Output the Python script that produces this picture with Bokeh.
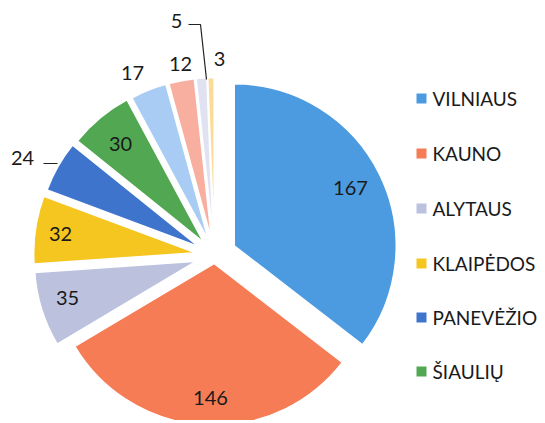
import math
from bokeh.plotting import figure
from bokeh.models import Range1d, ColumnDataSource
from bokeh.core.properties import value
from bokeh.embed import file_html
from bokeh.resources import INLINE

# ---- data ----
categories = ["VILNIAUS", "KAUNO", "ALYTAUS", "KLAIPĖDOS", "PANEVĖŽIO", "ŠIAULIŲ",
              "Kita 1", "Kita 2", "Kita 3", "Kita 4"]
values = [167, 146, 35, 32, 24, 30, 17, 12, 5, 3]
legend_labels = ["VILNIAUS", "KAUNO", "ALYTAUS", "KLAIPĖDOS", "PANEVĖŽIO", "ŠIAULIŲ"]

# ---- style ----
colors = ["#4C9BE0", "#F57C55", "#BCC2DE", "#F5C520", "#3F74CC", "#52A852",
          "#A8CCF4", "#F8AFA0", "#E0E2F2", "#F8DC98"]
explode = [22, 8, 19, 19, 18, 17, 16, 16, 16, 16]
H = 423
CX, CY = 214, H - 255
R = 162
FONT = "Lato"

# label positions (reference pixel coords)
label_pos = [(350, 187), (210, 397), (67, 297), (60, 233), (22, 157), (120, 143),
             (132, 72), (180, 63), (176, 20), (219, 58)]

total = sum(values)
xs, ys, starts, ends = [], [], [], []
acc = 0.0
for v, d in zip(values, explode):
    a1 = acc / total * 360.0
    a2 = (acc + v) / total * 360.0
    acc += v
    b = math.radians((a1 + a2) / 2)
    xs.append(CX + d * math.sin(b))
    ys.append(CY + d * math.cos(b))
    starts.append(math.radians(90 - a2))
    ends.append(math.radians(90 - a1))

src = ColumnDataSource(dict(x=xs, y=ys, s=starts, e=ends, c=colors))

W, HH = 540, 420
p = figure(width=W, height=HH, output_backend="svg", toolbar_location=None,
           x_range=Range1d(0, W), y_range=Range1d(H - HH, H),
           min_border=0)
p.axis.visible = False
p.grid.visible = False
p.outline_line_color = None
p.background_fill_color = "white"

p.wedge(x="x", y="y", radius=R, start_angle="s", end_angle="e", direction="anticlock",
        fill_color="c", line_color="white", line_width=1.5, source=src)

lsrc = ColumnDataSource(dict(x=[q[0] for q in label_pos], y=[H - q[1] for q in label_pos],
                             t=[str(v) for v in values]))
p.text(x="x", y="y", text="t", source=lsrc, text_font=value(FONT), text_font_size="20px",
       text_color="#1a1a1a", text_align="center", text_baseline="middle")

# leader lines
p.line(x=[43, 57], y=[H - 163, H - 163], line_color="#222222", line_width=1.2)
p.line(x=[188, 200, 206], y=[H - 24, H - 24, H - 79], line_color="#222222", line_width=1.2)

# legend
leg_y = [98, 153, 208, 263, 317, 371]
p.rect(x=[421] * 6, y=[H - v for v in leg_y], width=10, height=10,
       fill_color=colors[:6], line_color=None)
p.text(x=[432] * 6, y=[H - v for v in leg_y], text=legend_labels, text_font=value(FONT),
       text_font_size="19px", text_color="#1a1a1a", text_align="left", text_baseline="middle")

open("out.html", "w").write(file_html(p, INLINE))
